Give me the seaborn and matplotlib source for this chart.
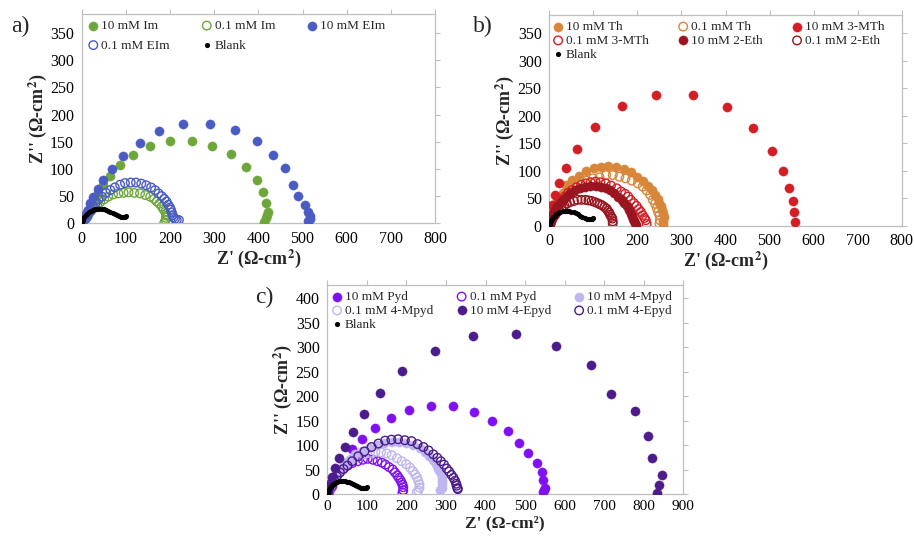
import matplotlib
matplotlib.use("Agg")
import matplotlib.pyplot as plt
import seaborn as sns
import pandas as pd

# ---------------- data ----------------
blank_x = [0, 1, 2, 4, 6, 9, 12, 16, 20, 25, 30, 35, 40, 45, 50, 55, 60, 65, 70, 75, 80, 85, 90, 94, 97, 100]
blank_y = [0, 3, 6, 9, 12, 15, 18, 21, 23, 25, 26.5, 27, 27, 26.5, 25.5, 24, 22.5, 20.5, 18.5, 16.5, 14.5, 13, 12, 11.5, 12, 13.5]

# panel a
im10_x = [1, 3, 7, 12, 18, 23, 29, 37, 48, 63, 86, 116, 155, 201, 250, 296, 338, 372, 396, 411, 417, 421, 419, 417, 413]
im10_y = [1, 6, 13, 20, 28, 35, 43, 55, 70, 87, 107, 126, 143, 152, 152, 143, 127, 104, 80, 58, 37, 21, 15, 9, 3]
im01_x = [2, 4, 7, 10, 14, 17, 22, 28, 35, 42, 51, 60, 71, 83, 95, 106, 119, 132, 144, 155, 164, 170, 176, 181, 185, 189, 191, 192, 191, 190, 187]
im01_y = [1, 3, 6, 9, 13, 18, 23, 28, 33, 39, 44, 49, 53, 55, 56, 57, 56, 55, 52, 49, 45, 40, 36, 31, 26, 21, 17, 14, 10, 6, 1]
eim10_x = [1, 3, 6, 10, 14, 18, 26, 37, 48, 68, 94, 131, 176, 230, 291, 347, 396, 434, 460, 479, 490, 506, 513, 517, 516, 513]
eim10_y = [1, 6, 12, 18, 24, 37, 49, 64, 80, 99, 124, 147, 169, 182, 183, 172, 152, 125, 102, 71, 51, 34, 21, 13, 8, 5]
eim01_x = [2, 5, 8, 12, 15, 20, 25, 31, 38, 46, 55, 65, 75, 87, 98, 111, 123, 135, 146, 157, 166, 174, 181, 187, 192, 196, 200, 202, 204, 206, 208, 211, 215, 220]
eim01_y = [1, 3, 7, 12, 18, 23, 30, 37, 44, 49, 56, 61, 66, 71, 74, 75, 75, 73, 70, 66, 61, 55, 50, 45, 40, 34, 29, 25, 20, 15, 11, 8, 6, 6]

# panel b
th10_x = [0, 1, 2, 4, 5, 9, 13, 18, 23, 30, 39, 52, 67, 84, 102, 118, 134, 152, 170, 186, 200, 213, 225, 233, 240, 246, 250, 253, 255, 258, 260, 259, 257]
th10_y = [1, 4, 8, 13, 20, 28, 36, 44, 52, 60, 74, 83, 91, 99, 104, 107, 109, 107, 103, 97, 89, 81, 73, 64, 56, 48, 41, 35, 29, 23, 15, 9, 3]
th01_x = [0, 1, 2, 4, 7, 11, 16, 23, 30, 38, 47, 58, 71, 85, 99, 114, 129, 144, 159, 173, 187, 201, 212, 221, 229, 235, 240, 244, 247, 250, 251, 250]
th01_y = [1, 5, 9, 15, 22, 29, 38, 45, 53, 60, 66, 72, 78, 82, 86, 88, 92, 92, 89, 86, 82, 77, 71, 64, 56, 47, 40, 32, 25, 19, 10, 4]
mth10_x = [0, 0, 2, 5, 13, 22, 37, 62, 104, 164, 242, 327, 403, 463, 505, 530, 545, 553, 556, 558]
mth10_y = [1, 4, 20, 38, 56, 77, 104, 140, 179, 217, 238, 238, 215, 177, 136, 99, 69, 45, 24, 7]
mth01_x = [1, 3, 5, 8, 12, 17, 22, 28, 35, 43, 52, 62, 72, 83, 94, 105, 116, 128, 140, 153, 163, 172, 179, 185, 192, 198, 203, 208, 212, 216, 219, 221]
mth01_y = [1, 6, 13, 19, 25, 33, 41, 47, 53, 60, 65, 70, 74, 77, 79, 80, 79, 77, 73, 68, 62, 58, 53, 47, 41, 36, 30, 25, 19, 14, 10, 3]
eth10_x = [0, 1, 2, 4, 5, 8, 13, 18, 24, 31, 39, 48, 58, 69, 81, 93, 106, 117, 128, 138, 147, 156, 164, 170, 176, 181, 185, 188, 191, 193, 195, 196]
eth10_y = [1, 3, 6, 10, 16, 22, 29, 35, 41, 47, 53, 59, 65, 68, 71, 72, 73, 71, 68, 64, 59, 53, 47, 41, 35, 29, 22, 18, 13, 9, 5, 2]
eth01_x = [1, 2, 4, 6, 9, 13, 17, 22, 28, 34, 40, 47, 56, 64, 73, 82, 89, 96, 103, 109, 115, 120, 125, 130, 133, 136, 138, 141, 143, 144, 144]
eth01_y = [1, 3, 6, 10, 15, 19, 24, 29, 33, 37, 40, 43, 45, 47, 47, 47, 46, 45, 43, 41, 39, 37, 34, 31, 27, 24, 20, 16, 13, 8, 4]

# panel c
pyd10_x = [1, 3, 7, 11, 15, 20, 24, 31, 40, 50, 62, 88, 121, 160, 207, 261, 317, 371, 417, 456, 485, 508, 531, 542, 546, 550, 548, 546]
pyd10_y = [1, 5, 10, 17, 24, 32, 40, 47, 54, 64, 91, 113, 134, 155, 171, 180, 179, 168, 149, 128, 104, 84, 64, 45, 28, 13, 8, 5]
pyd01_x = [2, 3, 5, 8, 11, 15, 19, 25, 32, 41, 51, 63, 77, 90, 102, 115, 127, 138, 147, 156, 165, 171, 177, 181, 185, 188, 190, 192, 192, 190]
pyd01_y = [1, 5, 10, 15, 21, 27, 34, 40, 47, 52, 58, 63, 67, 70, 72, 70, 67, 64, 60, 55, 50, 44, 38, 33, 28, 23, 19, 14, 8, 3]
mpyd10_x = [1, 3, 8, 13, 19, 27, 36, 46, 57, 71, 87, 105, 125, 144, 163, 182, 200, 217, 234, 246, 257, 266, 274, 280, 285, 289, 291, 290, 289, 285]
mpyd10_y = [1, 8, 16, 24, 34, 44, 54, 64, 72, 81, 88, 94, 100, 104, 106, 107, 105, 100, 93, 85, 77, 69, 61, 52, 44, 35, 27, 20, 13, 8]
mpyd01_x = [1, 3, 5, 8, 12, 18, 24, 32, 42, 53, 65, 78, 92, 108, 122, 136, 150, 163, 176, 188, 199, 209, 216, 222, 227, 230, 233, 233, 230, 226]
mpyd01_y = [1, 4, 10, 17, 24, 32, 40, 49, 57, 64, 71, 77, 81, 84, 86, 85, 83, 79, 73, 67, 61, 54, 47, 40, 34, 27, 20, 13, 7, 3]
epyd10_x = [1, 2, 5, 11, 19, 30, 45, 64, 93, 133, 190, 272, 369, 476, 578, 666, 716, 778, 811, 820, 846, 838, 834]
epyd10_y = [1, 5, 17, 34, 54, 73, 96, 126, 163, 206, 251, 292, 322, 326, 302, 264, 204, 169, 119, 74, 38, 18, 3]
epyd01_x = [1, 2, 4, 7, 11, 17, 24, 32, 41, 51, 63, 78, 94, 112, 129, 146, 162, 179, 196, 213, 228, 243, 256, 268, 278, 287, 295, 302, 308, 314, 319, 323, 326, 327, 329, 330]
epyd01_y = [1, 4, 10, 16, 22, 29, 36, 44, 51, 58, 67, 77, 87, 96, 103, 109, 111, 112, 110, 108, 102, 96, 89, 81, 74, 67, 60, 52, 46, 39, 33, 27, 21, 17, 12, 10]

panels = {
    "a": [
        ("10 mM Im", im10_x, im10_y, "#6EA63B", True),
        ("0.1 mM Im", im01_x, im01_y, "#6EA63B", False),
        ("10 mM EIm", eim10_x, eim10_y, "#4A5BC4", True),
        ("0.1 mM EIm", eim01_x, eim01_y, "#4A5BC4", False),
        ("Blank", blank_x, blank_y, "black", None),
    ],
    "b": [
        ("10 mM Th", th10_x, th10_y, "#D8863A", True),
        ("0.1 mM Th", th01_x, th01_y, "#D8863A", False),
        ("10 mM 3-MTh", mth10_x, mth10_y, "#D21E24", True),
        ("0.1 mM 3-MTh", mth01_x, mth01_y, "#D21E24", False),
        ("10 mM 2-Eth", eth10_x, eth10_y, "#9A1520", True),
        ("0.1 mM 2-Eth", eth01_x, eth01_y, "#9A1520", False),
        ("Blank", blank_x, blank_y, "black", None),
    ],
    "c": [
        ("10 mM Pyd", pyd10_x, pyd10_y, "#8010F4", True),
        ("0.1 mM Pyd", pyd01_x, pyd01_y, "#8010F4", False),
        ("10 mM 4-Mpyd", mpyd10_x, mpyd10_y, "#BEB6EE", True),
        ("0.1 mM 4-Mpyd", mpyd01_x, mpyd01_y, "#BEB6EE", False),
        ("10 mM 4-Epyd", epyd10_x, epyd10_y, "#4C1B8C", True),
        ("0.1 mM 4-Epyd", epyd01_x, epyd01_y, "#4C1B8C", False),
        ("Blank", blank_x, blank_y, "black", None),
    ],
}

xticks = {"a": list(range(0, 801, 100)), "b": list(range(0, 801, 100)), "c": list(range(0, 901, 100))}
yticks = {"a": list(range(0, 351, 50)), "b": list(range(0, 351, 50)), "c": list(range(0, 401, 50))}
ytop = {"a": 385, "b": 383, "c": 427}

# ---------------- style ----------------
sns.set_style("white")
plt.rcParams["font.family"] = ["Liberation Serif", "DejaVu Serif"]
plt.rcParams["mathtext.fontset"] = "stix"

fig = plt.figure(figsize=(9.14, 5.36), dpi=100)
W, H = 914.0, 536.0
boxes = {
    "a": (81.7, 14, 435.0, 223.3),
    "b": (549.3, 15, 901.7, 225.7),
    "c": (327.3, 285, 683.3, 494.0),
}
legend_opts = {
    "a": dict(bbox_to_anchor=(-0.012, 1.01), columnspacing=2.2, labelspacing=0.55),
    "b": dict(bbox_to_anchor=(-0.02, 1.01), columnspacing=2.0, labelspacing=0.12),
    "c": dict(bbox_to_anchor=(-0.017, 1.01), columnspacing=1.55, labelspacing=0.12),
}
grey = "#BFBFBF"

for key, series in panels.items():
    l, t, r, b = boxes[key]
    ax = fig.add_axes([l / W, 1 - b / H, (r - l) / W, (b - t) / H])
    for name, xs, ys, col, filled in series:
        df = pd.DataFrame({"x": xs, "y": ys})
        if filled is None:
            sns.scatterplot(data=df, x="x", y="y", ax=ax, color=col, s=14,
                            edgecolor=col, linewidth=0, label=name, zorder=5)
        elif filled:
            sns.scatterplot(data=df, x="x", y="y", ax=ax, color=col, s=44,
                            edgecolor=col, linewidth=0.3, label=name, zorder=3)
        else:
            sns.scatterplot(data=df, x="x", y="y", ax=ax, color=col, s=38,
                            facecolor="none", edgecolor=col, linewidth=1.0,
                            label=name, zorder=3)
    ax.set_xlim(0, xticks[key][-1])
    ax.set_ylim(0, ytop[key])
    ax.set_xticks(xticks[key])
    ax.set_yticks(yticks[key])
    for sp in ax.spines.values():
        sp.set_color(grey)
        sp.set_linewidth(0.9)
    ax.tick_params(axis="both", which="both", direction="out", length=3.5,
                   width=0.8, color=grey, top=True, right=True,
                   labelsize=11.5, pad=2, labelcolor="black")
    ax.set_ylabel("Z'' (Ω-cm$^{\\mathbf{2}}$)", fontsize=13, fontweight="bold", labelpad=1)
    if key == "c":
        ax.tick_params(axis="x", pad=1, labelsize=11)
        ax.set_xlabel("Z' (Ω-cm²)", fontsize=12.5, fontweight="bold")
        ax.xaxis.set_label_coords(0.5, -0.1005)
    else:
        ax.set_xlabel("Z' (Ω-cm$^{\\mathbf{2}}$)", fontsize=13, fontweight="bold", labelpad=0)

    handles, labels = ax.get_legend_handles_labels()
    if len(handles) == 5:
        order = [0, 3, 1, 4, 2]
    else:
        order = [0, 3, 6, 1, 4, 2, 5]
    ax.legend([handles[i] for i in order], [labels[i] for i in order],
              ncol=3, loc="upper left", frameon=False, fontsize=9.5,
              handletextpad=0.0, borderaxespad=0.2, handlelength=1.2,
              markerscale=1.0, **legend_opts[key])

fig.text(11 / W, 1 - 26 / H, "a)", fontsize=17, va="center", ha="left")
fig.text(473 / W, 1 - 26 / H, "b)", fontsize=17, va="center", ha="left")
fig.text(255 / W, 1 - 297 / H, "c)", fontsize=17, va="center", ha="left")

fig.savefig("out.png", dpi=100)
